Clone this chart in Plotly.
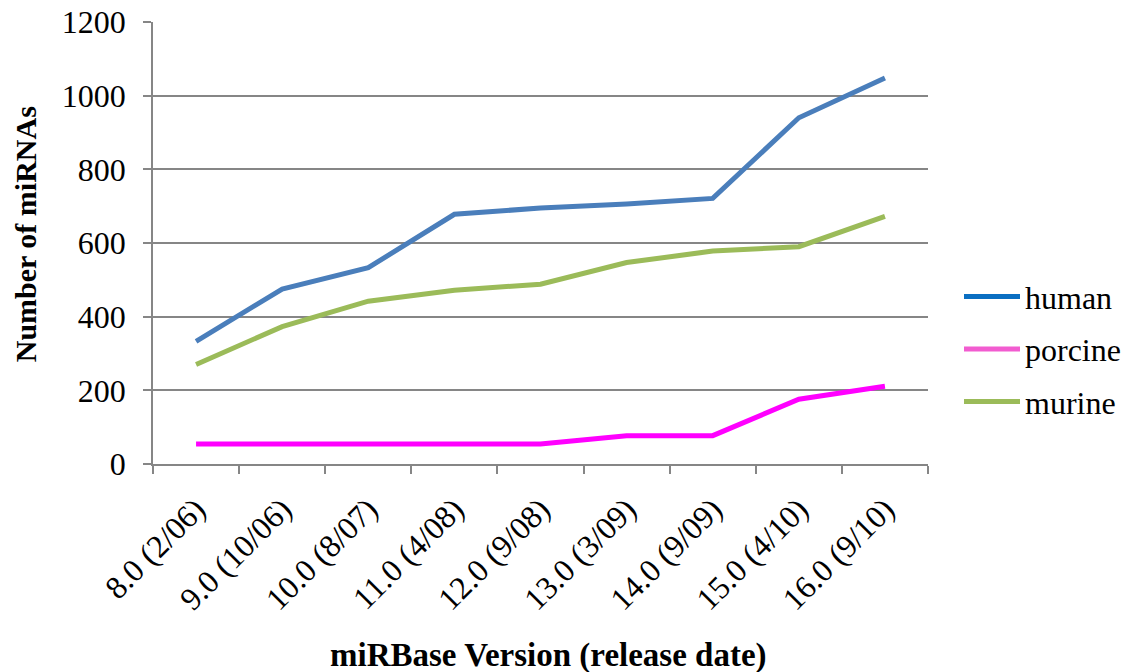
import plotly.graph_objects as go

# miRBase releases (version and release date)
versions = ["8.0 (2/06)", "9.0 (10/06)", "10.0 (8/07)", "11.0 (4/08)", "12.0 (9/08)",
            "13.0 (3/09)", "14.0 (9/09)", "15.0 (4/10)", "16.0 (9/10)"]

# number of annotated miRNAs per species
human = [333, 475, 533, 678, 695, 706, 721, 940, 1048]
porcine = [54, 54, 54, 54, 54, 77, 77, 176, 211]
murine = [270, 373, 442, 472, 488, 547, 578, 590, 672]

y_ticks = [0, 200, 400, 600, 800, 1000, 1200]

FONT = "Liberation Serif"
GRID = "#868686"

series = [
    ("human", human, "#4a7ebb", "#0a6fc2"),
    ("porcine", porcine, "#ff00ff", "#f25cd0"),
    ("murine", murine, "#9bbb59", "#9bbb59"),
]

fig = go.Figure()
for name, vals, line_col, legend_col in series:
    # the plotted line
    fig.add_trace(go.Scatter(
        x=versions, y=vals, mode="lines", name=name, showlegend=False,
        line=dict(color=line_col, width=5),
    ))
    # legend entry
    fig.add_trace(go.Scatter(
        x=[None], y=[None], mode="lines", name=name, legendgroup=name,
        line=dict(color=legend_col, width=5),
    ))

fig.update_layout(
    width=1125, height=672,
    margin=dict(l=153, r=197, t=22, b=208, autoexpand=False),
    paper_bgcolor="white", plot_bgcolor="white",
    font=dict(family=FONT, size=32, color="black"),
    showlegend=True,
    legend=dict(
        x=1.04, y=0.26, xanchor="left", yanchor="middle",
        font=dict(family=FONT, size=32, color="black"),
        itemwidth=56, tracegroupgap=8, traceorder="grouped",
        bgcolor="rgba(0,0,0,0)",
    ),
    annotations=[
        dict(text="<b>Number of miRNAs</b>", xref="paper", yref="paper",
             x=-0.165, y=0.52, xanchor="center", yanchor="middle",
             textangle=-90, showarrow=False,
             font=dict(family=FONT, size=30, color="black")),
        dict(text="<b>miRBase Version (release date)</b>", xref="paper", yref="paper",
             x=0.51, y=-0.477, xanchor="center", yanchor="bottom",
             showarrow=False, borderpad=0,
             font=dict(family=FONT, size=33, color="black")),
    ],
)

fig.update_xaxes(
    type="category", range=[-0.5, len(versions) - 0.5], automargin=False,
    showgrid=False, showline=True, linecolor=GRID, linewidth=1.5,
    ticks="outside", ticklen=8, tickcolor=GRID, tickwidth=1.5,
    tickson="boundaries", tickangle=-45, ticklabelstandoff=12,
    tickfont=dict(family=FONT, size=32, color="black"),
)
fig.update_yaxes(
    range=[0, 1200], tickvals=y_ticks, ticktext=[str(v) for v in y_ticks],
    automargin=False,
    showgrid=True, gridcolor=GRID, gridwidth=1.5,
    showline=True, linecolor=GRID, linewidth=1.5,
    ticks="outside", ticklen=8, tickcolor=GRID, tickwidth=1.5,
    ticklabelstandoff=11, zeroline=False,
    tickfont=dict(family=FONT, size=32, color="black"),
)

fig.write_html("out.html")
